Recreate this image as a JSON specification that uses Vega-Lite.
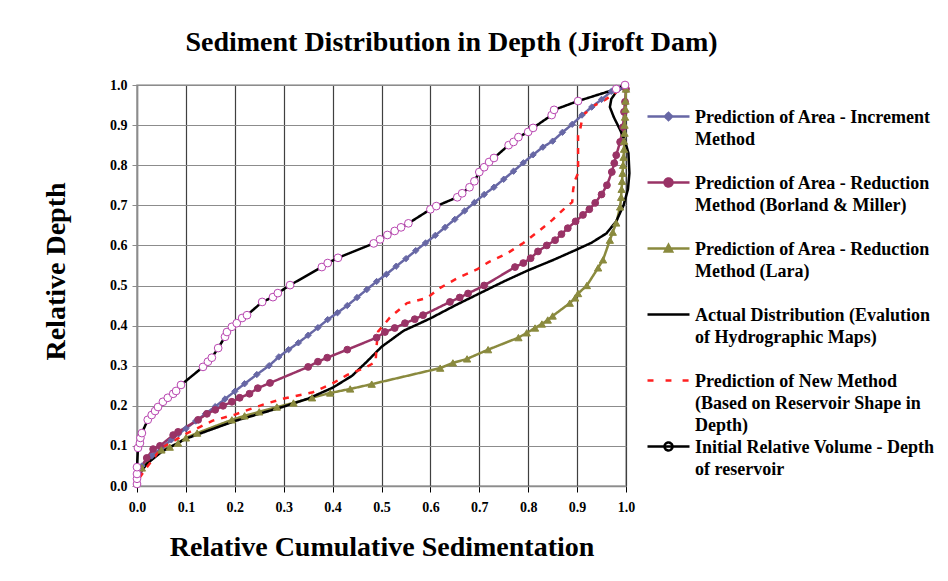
{
  "$schema": "https://vega.github.io/schema/vega-lite/v6.json",
  "autosize": {"type": "none"},
  "width": 489,
  "height": 401,
  "padding": {"left": 137, "top": 85, "right": 322, "bottom": 95},
  "background": "white",
  "title": {"text": "Sediment Distribution in Depth (Jiroft Dam)", "font": "Liberation Serif", "fontSize": 28, "fontWeight": "bold", "color": "black", "anchor": "middle", "dx": 70, "offset": 21},
  "datasets": {
    "names": [
      {"k": "inc", "series": "Prediction of Area - Increment Method"},
      {"k": "bm", "series": "Prediction of Area - Reduction Method (Borland & Miller)"},
      {"k": "lara", "series": "Prediction of Area - Reduction Method (Lara)"},
      {"k": "act", "series": "Actual Distribution (Evalution of Hydrographic Maps)"},
      {"k": "new", "series": "Prediction of New Method (Based on Reservoir Shape in Depth)"},
      {"k": "init", "series": "Initial Relative Volume - Depth of reservoir"}
    ],
    "pts": [
      {"k":"inc","x":0.01,"y":0.05},{"k":"inc","x":0.03,"y":0.075},{"k":"inc","x":0.05,"y":0.095},{"k":"inc","x":0.07,"y":0.115},{"k":"inc","x":0.085,"y":0.13},{"k":"inc","x":0.10,"y":0.143},{"k":"inc","x":0.12,"y":0.162},{"k":"inc","x":0.14,"y":0.18},{"k":"inc","x":0.16,"y":0.198},{"k":"inc","x":0.18,"y":0.217},{"k":"inc","x":0.20,"y":0.236},{"k":"inc","x":0.22,"y":0.255},{"k":"inc","x":0.245,"y":0.278},{"k":"inc","x":0.27,"y":0.30},{"k":"inc","x":0.29,"y":0.322},{"k":"inc","x":0.31,"y":0.34},{"k":"inc","x":0.33,"y":0.357},{"k":"inc","x":0.35,"y":0.376},{"k":"inc","x":0.37,"y":0.395},{"k":"inc","x":0.39,"y":0.415},{"k":"inc","x":0.41,"y":0.432},{"k":"inc","x":0.43,"y":0.45},{"k":"inc","x":0.45,"y":0.47},{"k":"inc","x":0.47,"y":0.49},{"k":"inc","x":0.49,"y":0.51},{"k":"inc","x":0.51,"y":0.528},{"k":"inc","x":0.53,"y":0.548},{"k":"inc","x":0.55,"y":0.567},{"k":"inc","x":0.57,"y":0.587},{"k":"inc","x":0.59,"y":0.606},{"k":"inc","x":0.61,"y":0.625},{"k":"inc","x":0.63,"y":0.645},{"k":"inc","x":0.65,"y":0.665},{"k":"inc","x":0.67,"y":0.686},{"k":"inc","x":0.69,"y":0.707},{"k":"inc","x":0.71,"y":0.727},{"k":"inc","x":0.73,"y":0.745},{"k":"inc","x":0.75,"y":0.765},{"k":"inc","x":0.77,"y":0.785},{"k":"inc","x":0.79,"y":0.806},{"k":"inc","x":0.81,"y":0.826},{"k":"inc","x":0.83,"y":0.845},{"k":"inc","x":0.85,"y":0.86},{"k":"inc","x":0.87,"y":0.882},{"k":"inc","x":0.89,"y":0.902},{"k":"inc","x":0.91,"y":0.925},{"k":"inc","x":0.93,"y":0.945},{"k":"inc","x":0.95,"y":0.964},{"k":"inc","x":0.97,"y":0.984},{"k":"inc","x":0.985,"y":0.99},
      {"k":"bm","x":0.005,"y":0.04},{"k":"bm","x":0.02,"y":0.07},{"k":"bm","x":0.033,"y":0.092},{"k":"bm","x":0.047,"y":0.10},{"k":"bm","x":0.074,"y":0.127},{"k":"bm","x":0.084,"y":0.135},{"k":"bm","x":0.125,"y":0.165},{"k":"bm","x":0.143,"y":0.18},{"k":"bm","x":0.16,"y":0.19},{"k":"bm","x":0.176,"y":0.20},{"k":"bm","x":0.194,"y":0.21},{"k":"bm","x":0.21,"y":0.22},{"k":"bm","x":0.23,"y":0.23},{"k":"bm","x":0.247,"y":0.244},{"k":"bm","x":0.272,"y":0.257},{"k":"bm","x":0.35,"y":0.297},{"k":"bm","x":0.37,"y":0.31},{"k":"bm","x":0.389,"y":0.32},{"k":"bm","x":0.43,"y":0.34},{"k":"bm","x":0.49,"y":0.37},{"k":"bm","x":0.507,"y":0.384},{"k":"bm","x":0.527,"y":0.394},{"k":"bm","x":0.548,"y":0.406},{"k":"bm","x":0.568,"y":0.416},{"k":"bm","x":0.585,"y":0.426},{"k":"bm","x":0.64,"y":0.459},{"k":"bm","x":0.66,"y":0.47},{"k":"bm","x":0.677,"y":0.48},{"k":"bm","x":0.71,"y":0.50},{"k":"bm","x":0.773,"y":0.546},{"k":"bm","x":0.79,"y":0.556},{"k":"bm","x":0.805,"y":0.568},{"k":"bm","x":0.82,"y":0.585},{"k":"bm","x":0.838,"y":0.6},{"k":"bm","x":0.855,"y":0.613},{"k":"bm","x":0.868,"y":0.628},{"k":"bm","x":0.881,"y":0.643},{"k":"bm","x":0.897,"y":0.66},{"k":"bm","x":0.912,"y":0.676},{"k":"bm","x":0.925,"y":0.69},{"k":"bm","x":0.937,"y":0.706},{"k":"bm","x":0.95,"y":0.727},{"k":"bm","x":0.961,"y":0.75},{"k":"bm","x":0.971,"y":0.783},{"k":"bm","x":0.976,"y":0.805},{"k":"bm","x":0.98,"y":0.825},{"k":"bm","x":0.988,"y":0.858},{"k":"bm","x":0.994,"y":0.895},{"k":"bm","x":0.996,"y":0.933},{"k":"bm","x":0.998,"y":0.958},{"k":"bm","x":1.0,"y":0.99},
      {"k":"lara","x":0.01,"y":0.045},{"k":"lara","x":0.05,"y":0.09},{"k":"lara","x":0.067,"y":0.097},{"k":"lara","x":0.084,"y":0.107},{"k":"lara","x":0.10,"y":0.12},{"k":"lara","x":0.123,"y":0.132},{"k":"lara","x":0.194,"y":0.165},{"k":"lara","x":0.22,"y":0.175},{"k":"lara","x":0.25,"y":0.185},{"k":"lara","x":0.286,"y":0.197},{"k":"lara","x":0.32,"y":0.207},{"k":"lara","x":0.358,"y":0.22},{"k":"lara","x":0.395,"y":0.232},{"k":"lara","x":0.436,"y":0.242},{"k":"lara","x":0.48,"y":0.254},{"k":"lara","x":0.62,"y":0.294},{"k":"lara","x":0.646,"y":0.307},{"k":"lara","x":0.675,"y":0.317},{"k":"lara","x":0.718,"y":0.34},{"k":"lara","x":0.78,"y":0.37},{"k":"lara","x":0.797,"y":0.382},{"k":"lara","x":0.814,"y":0.394},{"k":"lara","x":0.828,"y":0.404},{"k":"lara","x":0.84,"y":0.414},{"k":"lara","x":0.85,"y":0.424},{"k":"lara","x":0.885,"y":0.456},{"k":"lara","x":0.896,"y":0.469},{"k":"lara","x":0.902,"y":0.48},{"k":"lara","x":0.92,"y":0.50},{"k":"lara","x":0.943,"y":0.544},{"k":"lara","x":0.953,"y":0.564},{"k":"lara","x":0.967,"y":0.613},{"k":"lara","x":0.973,"y":0.633},{"k":"lara","x":0.98,"y":0.656},{"k":"lara","x":0.988,"y":0.696},{"k":"lara","x":0.99,"y":0.72},{"k":"lara","x":0.991,"y":0.74},{"k":"lara","x":0.992,"y":0.76},{"k":"lara","x":0.993,"y":0.78},{"k":"lara","x":0.994,"y":0.8},{"k":"lara","x":0.995,"y":0.82},{"k":"lara","x":0.996,"y":0.84},{"k":"lara","x":0.996,"y":0.86},{"k":"lara","x":0.997,"y":0.88},{"k":"lara","x":0.997,"y":0.9},{"k":"lara","x":0.998,"y":0.92},{"k":"lara","x":0.999,"y":0.94},{"k":"lara","x":0.999,"y":0.96},{"k":"lara","x":1.0,"y":0.99},
      {"k":"act","x":0.005,"y":0.03},{"k":"act","x":0.02,"y":0.055},{"k":"act","x":0.05,"y":0.085},{"k":"act","x":0.1,"y":0.118},{"k":"act","x":0.15,"y":0.14},{"k":"act","x":0.2,"y":0.162},{"k":"act","x":0.25,"y":0.18},{"k":"act","x":0.3,"y":0.198},{"k":"act","x":0.35,"y":0.218},{"k":"act","x":0.4,"y":0.245},{"k":"act","x":0.44,"y":0.275},{"k":"act","x":0.47,"y":0.31},{"k":"act","x":0.5,"y":0.347},{"k":"act","x":0.545,"y":0.387},{"k":"act","x":0.6,"y":0.418},{"k":"act","x":0.65,"y":0.45},{"k":"act","x":0.7,"y":0.48},{"k":"act","x":0.75,"y":0.51},{"k":"act","x":0.8,"y":0.538},{"k":"act","x":0.85,"y":0.563},{"k":"act","x":0.9,"y":0.59},{"k":"act","x":0.93,"y":0.607},{"k":"act","x":0.96,"y":0.63},{"k":"act","x":0.98,"y":0.66},{"k":"act","x":0.995,"y":0.7},{"k":"act","x":1.004,"y":0.74},{"k":"act","x":1.007,"y":0.78},{"k":"act","x":1.005,"y":0.83},{"k":"act","x":0.998,"y":0.86},{"k":"act","x":0.988,"y":0.888},{"k":"act","x":0.975,"y":0.92},{"k":"act","x":0.967,"y":0.945},{"k":"act","x":0.97,"y":0.965},{"k":"act","x":0.98,"y":0.983},{"k":"act","x":0.994,"y":0.993},
      {"k":"new","x":0.005,"y":0.02},{"k":"new","x":0.016,"y":0.04},{"k":"new","x":0.05,"y":0.095},{"k":"new","x":0.1,"y":0.13},{"k":"new","x":0.155,"y":0.163},{"k":"new","x":0.2,"y":0.178},{"k":"new","x":0.26,"y":0.204},{"k":"new","x":0.3,"y":0.218},{"k":"new","x":0.36,"y":0.234},{"k":"new","x":0.4,"y":0.256},{"k":"new","x":0.43,"y":0.277},{"k":"new","x":0.47,"y":0.297},{"k":"new","x":0.488,"y":0.31},{"k":"new","x":0.49,"y":0.35},{"k":"new","x":0.493,"y":0.385},{"k":"new","x":0.517,"y":0.42},{"k":"new","x":0.552,"y":0.456},{"k":"new","x":0.593,"y":0.469},{"k":"new","x":0.62,"y":0.494},{"k":"new","x":0.656,"y":0.519},{"k":"new","x":0.695,"y":0.54},{"k":"new","x":0.72,"y":0.559},{"k":"new","x":0.757,"y":0.58},{"k":"new","x":0.79,"y":0.606},{"k":"new","x":0.824,"y":0.638},{"k":"new","x":0.849,"y":0.663},{"k":"new","x":0.875,"y":0.693},{"k":"new","x":0.89,"y":0.708},{"k":"new","x":0.892,"y":0.74},{"k":"new","x":0.896,"y":0.763},{"k":"new","x":0.902,"y":0.78},{"k":"new","x":0.902,"y":0.875},{"k":"new","x":0.906,"y":0.888},{"k":"new","x":0.912,"y":0.925},{"k":"new","x":0.937,"y":0.95},{"k":"new","x":0.957,"y":0.963},{"k":"new","x":0.99,"y":0.99},
      {"k":"init","x":0.0,"y":0.005},{"k":"init","x":0.0,"y":0.018},{"k":"init","x":0.0,"y":0.03},{"k":"init","x":0.0,"y":0.047},{"k":"init","x":0.002,"y":0.095},{"k":"init","x":0.006,"y":0.107},{"k":"init","x":0.007,"y":0.12},{"k":"init","x":0.01,"y":0.132},{"k":"init","x":0.022,"y":0.165},{"k":"init","x":0.03,"y":0.177},{"k":"init","x":0.037,"y":0.187},{"k":"init","x":0.043,"y":0.197},{"k":"init","x":0.053,"y":0.21},{"k":"init","x":0.063,"y":0.22},{"k":"init","x":0.074,"y":0.23},{"k":"init","x":0.08,"y":0.237},{"k":"init","x":0.09,"y":0.252},{"k":"init","x":0.135,"y":0.297},{"k":"init","x":0.145,"y":0.31},{"k":"init","x":0.153,"y":0.32},{"k":"init","x":0.166,"y":0.344},{"k":"init","x":0.18,"y":0.372},{"k":"init","x":0.184,"y":0.384},{"k":"init","x":0.194,"y":0.397},{"k":"init","x":0.204,"y":0.406},{"k":"init","x":0.215,"y":0.419},{"k":"init","x":0.225,"y":0.426},{"k":"init","x":0.256,"y":0.459},{"k":"init","x":0.278,"y":0.471},{"k":"init","x":0.288,"y":0.481},{"k":"init","x":0.313,"y":0.501},{"k":"init","x":0.378,"y":0.546},{"k":"init","x":0.39,"y":0.556},{"k":"init","x":0.411,"y":0.569},{"k":"init","x":0.484,"y":0.605},{"k":"init","x":0.497,"y":0.615},{"k":"init","x":0.512,"y":0.626},{"k":"init","x":0.527,"y":0.636},{"k":"init","x":0.54,"y":0.645},{"k":"init","x":0.555,"y":0.655},{"k":"init","x":0.6,"y":0.69},{"k":"init","x":0.612,"y":0.698},{"k":"init","x":0.655,"y":0.72},{"k":"init","x":0.665,"y":0.73},{"k":"init","x":0.68,"y":0.745},{"k":"init","x":0.69,"y":0.76},{"k":"init","x":0.70,"y":0.783},{"k":"init","x":0.71,"y":0.795},{"k":"init","x":0.72,"y":0.808},{"k":"init","x":0.73,"y":0.818},{"k":"init","x":0.76,"y":0.85},{"k":"init","x":0.77,"y":0.858},{"k":"init","x":0.78,"y":0.87},{"k":"init","x":0.80,"y":0.883},{"k":"init","x":0.81,"y":0.893},{"k":"init","x":0.848,"y":0.925},{"k":"init","x":0.853,"y":0.938},{"k":"init","x":0.902,"y":0.96},{"k":"init","x":0.98,"y":0.99},{"k":"init","x":0.998,"y":1.0}
    ]
  },
  "data": {"name": "pts"},
  "transform": [{"lookup": "k", "from": {"data": {"name": "names"}, "key": "k", "fields": ["series"]}}],
  "encoding": {
    "x": {"field": "x", "type": "quantitative", "scale": {"domain": [0, 1], "nice": false, "zero": false},
      "axis": {"title": "Relative Cumulative Sedimentation", "values": [0,0.1,0.2,0.3,0.4,0.5,0.6,0.7,0.8,0.9,1.0], "format": ".1f", "gridColor": "#404040", "gridWidth": 1.2, "tickColor": "black", "tickSize": 6, "labelPadding": 8, "titlePadding": 19}},
    "y": {"field": "y", "type": "quantitative", "scale": {"domain": [0, 1], "nice": false, "zero": false},
      "axis": {"title": "Relative Depth", "values": [0,0.1,0.2,0.3,0.4,0.5,0.6,0.7,0.8,0.9,1.0], "format": ".1f", "gridColor": "#8c8c8c", "gridWidth": 1.2, "tickColor": "#8c8c8c", "tickSize": 5, "labelPadding": 5, "titlePadding": 39, "titleY": 186}}
  },
  "layer": [
    {
      "mark": {"type": "line", "strokeJoin": "round"},
      "encoding": {
        "order": {"value": null},
        "color": {"field": "series", "type": "nominal",
          "scale": {"domain": ["Prediction of Area - Increment Method", "Prediction of Area - Reduction Method (Borland & Miller)", "Prediction of Area - Reduction Method (Lara)", "Actual Distribution (Evalution of Hydrographic Maps)", "Prediction of New Method (Based on Reservoir Shape in Depth)", "Initial Relative Volume - Depth of reservoir"],
            "range": ["#6767a5", "#993366", "#8a8a3e", "#000000", "#ff2020", "#000000"]},
          "legend": {
            "title": null, "orient": "right", "offset": -7, "padding": 22, "rowPadding": 2, "gridAlign": "all",
            "symbolSize": 1764, "symbolStrokeWidth": 2.5, "labelOffset": 4, "labelLimit": 400,
            "labelFont": "Liberation Serif", "labelFontWeight": "bold", "labelFontSize": 18, "labelColor": "black", "labelBaseline": "top",
            "labelExpr": "datum.label == 'Prediction of Area - Increment Method' ? ['Prediction of Area - Increment', 'Method'] : datum.label == 'Prediction of Area - Reduction Method (Borland & Miller)' ? ['Prediction of Area - Reduction', 'Method (Borland & Miller)'] : datum.label == 'Prediction of Area - Reduction Method (Lara)' ? ['Prediction of Area - Reduction', 'Method (Lara)'] : datum.label == 'Actual Distribution (Evalution of Hydrographic Maps)' ? ['Actual Distribution (Evalution', 'of Hydrographic Maps)'] : datum.label == 'Prediction of New Method (Based on Reservoir Shape in Depth)' ? ['Prediction of New Method', '(Based on Reservoir Shape in', 'Depth)'] : ['Initial Relative Volume - Depth', 'of reservoir']",
            "encode": {
              "symbols": {"update": {
                "shape": {"signal": "datum.value == 'Prediction of Area - Increment Method' ? 'M-1,-0.62H1M0,-0.79L0.17,-0.62L0,-0.45L-0.17,-0.62Z' : datum.value == 'Prediction of Area - Reduction Method (Borland & Miller)' ? 'M-1,-0.62H1M-0.19,-0.62A0.19,0.19 0 1,0 0.19,-0.62A0.19,0.19 0 1,0 -0.19,-0.62Z' : datum.value == 'Prediction of Area - Reduction Method (Lara)' ? 'M-1,-0.62H1M0,-0.79L0.17,-0.48L-0.17,-0.48Z' : datum.value == 'Prediction of New Method (Based on Reservoir Shape in Depth)' ? 'M-1,-0.62H-0.67M-0.14,-0.62H0.14M0.67,-0.62H1' : datum.value == 'Initial Relative Volume - Depth of reservoir' ? 'M-1,-0.62H1M-0.19,-0.62A0.19,0.19 0 1,0 0.19,-0.62A0.19,0.19 0 1,0 -0.19,-0.62Z' : 'M-1,-0.62H1'"},
                "fill": {"signal": "datum.value == 'Prediction of Area - Increment Method' ? '#6767a5' : datum.value == 'Prediction of Area - Reduction Method (Borland & Miller)' ? '#993366' : datum.value == 'Prediction of Area - Reduction Method (Lara)' ? '#8a8a3e' : datum.value == 'Initial Relative Volume - Depth of reservoir' ? 'white' : 'transparent'"},
                "strokeWidth": {"value": 2.5},
                "strokeDash": {"value": []},
                "size": {"value": 1764}
              }},
              "labels": {"update": {"lineHeight": {"value": 22}, "dy": {"value": -21}}}
            }
          }},
        "strokeDash": {"field": "series", "type": "nominal", "legend": null,
          "scale": {"domain": ["Prediction of Area - Increment Method", "Prediction of Area - Reduction Method (Borland & Miller)", "Prediction of Area - Reduction Method (Lara)", "Actual Distribution (Evalution of Hydrographic Maps)", "Prediction of New Method (Based on Reservoir Shape in Depth)", "Initial Relative Volume - Depth of reservoir"],
            "range": [[1,0],[1,0],[1,0],[1,0],[6,7],[1,0]]}},
        "strokeWidth": {"field": "series", "type": "nominal", "legend": null,
          "scale": {"domain": ["Prediction of Area - Increment Method", "Prediction of Area - Reduction Method (Borland & Miller)", "Prediction of Area - Reduction Method (Lara)", "Actual Distribution (Evalution of Hydrographic Maps)", "Prediction of New Method (Based on Reservoir Shape in Depth)", "Initial Relative Volume - Depth of reservoir"],
            "range": [2.5, 2.5, 2.5, 3.2, 3, 3]}}
      }
    },
    {
      "transform": [{"filter": {"field": "k", "oneOf": ["inc", "bm", "lara", "init"]}}],
      "mark": {"type": "point", "opacity": 1, "strokeWidth": 1},
      "encoding": {
        "shape": {"field": "series", "type": "nominal", "legend": null,
          "scale": {"domain": ["Prediction of Area - Increment Method", "Prediction of Area - Reduction Method (Borland & Miller)", "Prediction of Area - Reduction Method (Lara)", "Initial Relative Volume - Depth of reservoir"],
            "range": ["diamond", "circle", "triangle-up", "circle"]}},
        "size": {"field": "series", "type": "nominal", "legend": null,
          "scale": {"domain": ["Prediction of Area - Increment Method", "Prediction of Area - Reduction Method (Borland & Miller)", "Prediction of Area - Reduction Method (Lara)", "Initial Relative Volume - Depth of reservoir"],
            "range": [40, 60, 45, 60]}},
        "fill": {"field": "series", "type": "nominal", "legend": null,
          "scale": {"domain": ["Prediction of Area - Increment Method", "Prediction of Area - Reduction Method (Borland & Miller)", "Prediction of Area - Reduction Method (Lara)", "Initial Relative Volume - Depth of reservoir"],
            "range": ["#6767a5", "#993366", "#8a8a3e", "#ffffff"]}},
        "stroke": {"field": "series", "type": "nominal", "legend": null,
          "scale": {"domain": ["Prediction of Area - Increment Method", "Prediction of Area - Reduction Method (Borland & Miller)", "Prediction of Area - Reduction Method (Lara)", "Initial Relative Volume - Depth of reservoir"],
            "range": ["#6767a5", "#993366", "#8a8a3e", "#b845b0"]}}
      }
    }
  ],
  "config": {
    "view": {"stroke": "#a6a6a6", "strokeWidth": 1.5},
    "axis": {"labelFont": "Liberation Serif", "labelFontWeight": "bold", "labelFontSize": 14, "labelColor": "black", "titleFont": "Liberation Serif", "titleFontWeight": "bold", "titleFontSize": 28, "titleColor": "black", "domainColor": "#8c8c8c", "domainWidth": 1.5, "labelFlush": false, "gridOpacity": 1}
  }
}
